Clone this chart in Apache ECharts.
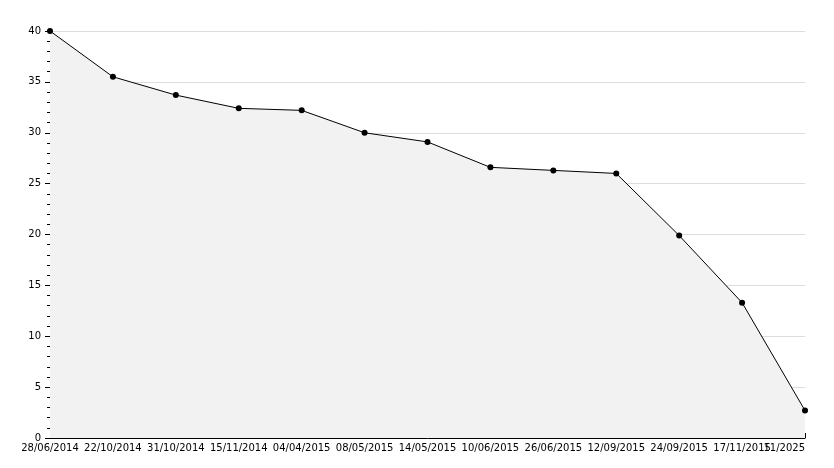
<!DOCTYPE html>
<html>
<head>
<meta charset="utf-8">
<script src="https://cdn.jsdelivr.net/npm/echarts@6/dist/echarts.min.js"></script>
<style>html,body{margin:0;padding:0;background:#fff}#chart{width:834px;height:468px}</style>
</head>
<body>
<div id="chart"></div>
<script>
const dates = ['28/06/2014', '22/10/2014', '31/10/2014', '15/11/2014', '04/04/2015', '08/05/2015', '14/05/2015', '10/06/2015', '26/06/2015', '12/09/2015', '24/09/2015', '17/11/2015', '11/2025']
const values = [40, 35.5, 33.7, 32.4, 32.2, 30.0, 29.1, 26.6, 26.3, 26.0, 19.9, 13.3, 2.7]

const chart = echarts.init(document.getElementById('chart'))
chart.setOption({
  animation: false,
  grid: { left: 50, right: 29, top: 31, bottom: 30 },
  textStyle: { fontFamily: 'DejaVu Sans' },
  xAxis: {
    type: 'category',
    data: dates,
    boundaryGap: false,
    axisLine: { lineStyle: { color: '#000' } },
    axisTick: { inside: true, length: 5, alignWithLabel: true, lineStyle: { color: '#000' } },
    axisLabel: { color: '#000', fontSize: 10, interval: 0, margin: 5, alignMinLabel: 'center', alignMaxLabel: 'right' },
    splitLine: { show: false }
  },
  yAxis: {
    type: 'value',
    min: 0,
    max: 40,
    interval: 5,
    axisLine: { show: true, lineStyle: { color: '#000' } },
    axisTick: { show: true, length: 5, lineStyle: { color: '#000' } },
    minorTick: { show: true, splitNumber: 5, length: 3, lineStyle: { color: '#000' } },
    axisLabel: { color: '#000', fontSize: 10, margin: 9 },
    splitLine: { lineStyle: { color: '#ddd' } }
  },
  series: [{
    type: 'line',
    data: values,
    symbol: 'circle',
    symbolSize: 6,
    itemStyle: { color: '#000' },
    lineStyle: { color: '#000', width: 1 },
    areaStyle: { color: '#f2f2f2', opacity: 1 }
  }]
})
</script>
</body>
</html>
